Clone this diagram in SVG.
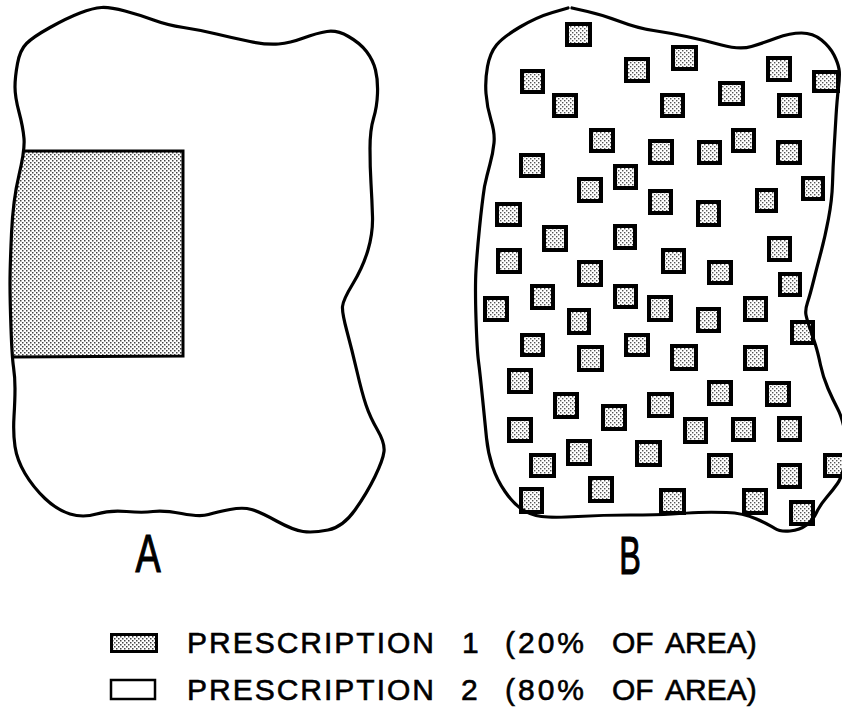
<svg xmlns="http://www.w3.org/2000/svg" width="842" height="709" viewBox="0 0 842 709">
<style>
.outline{fill:none;stroke:#000;stroke-width:3.2;stroke-linejoin:round;stroke-linecap:round}
.sq{fill:url(#dotsB);stroke:#000;stroke-width:4;stroke-linejoin:miter}
.lbl{font-family:"Liberation Sans",Arial,sans-serif;fill:#000;stroke:#000;stroke-width:1.2}
.leg{font-family:"Liberation Sans",Arial,sans-serif;font-size:30px;fill:#000;stroke:#000;stroke-width:0.6}
</style>
<defs>
<pattern id="dotsA" width="4" height="4" patternUnits="userSpaceOnUse">
<rect width="4" height="4" fill="#fff"/>
<rect x="0" y="0" width="1.5" height="1.5" fill="#444"/>
<rect x="2" y="2" width="1.5" height="1.5" fill="#444"/>
</pattern>
<pattern id="dotsB" width="4" height="4" patternUnits="userSpaceOnUse">
<rect width="4" height="4" fill="#fff"/>
<rect x="0" y="0" width="1.4" height="1.4" fill="#555"/>
<rect x="2" y="2" width="1.4" height="1.4" fill="#555"/>
</pattern>
</defs>
<rect width="842" height="709" fill="#fff"/>

<g id="plotA">
<polygon points="25,150 183,151 183,356 12,357 10,300 10,267 13,200" fill="url(#dotsA)"/>
<polyline points="25,151 183,151 183,356 12,357" fill="none" stroke="#000" stroke-width="3"/>
<path class="outline" d="M80,13 Q93,8 101.5,7.5 Q110,7 125,11 Q140,15 153.5,20 Q167,25 183.5,27.5 Q200,30 216.5,34 Q233,38 250,41.5 Q267,45 278.5,44 Q290,43 303.5,38 Q317,33 327,31.5 Q337,30 348.5,36.5 Q360,43 366.5,51.5 Q373,60 375.5,70 Q378,80 377.5,93.5 Q377,107 373.5,118.5 Q370,130 370,148.5 Q370,167 371,183.5 Q372,200 372.5,216.5 Q373,233 368,250 Q363,267 353,283.5 Q343,300 342.5,306.5 Q342,313 347,331.5 Q352,350 357,371.5 Q362,393 366,405 Q370,417 377.5,430 Q385,443 384,451.5 Q383,460 375,476.5 Q367,493 355,510 Q343,527 328,530 Q313,533 303,531.5 Q293,530 276.5,521 Q260,512 251.5,509.5 Q243,507 230,509.5 Q217,512 208.5,514.5 Q200,517 181.5,513.5 Q163,510 153,511.5 Q143,513 126.5,511.5 Q110,510 96.5,514 Q83,518 70,514 Q57,510 45,498.5 Q33,487 25,473.5 Q17,460 15,446.5 Q13,433 14,416.5 Q15,400 15,388.5 Q15,377 13.5,367 Q12,357 11,328.5 Q10,300 10,283.5 Q10,267 11.5,233.5 Q13,200 19,175 Q25,150 24,138.5 Q23,127 19,112 Q15,97 15,87 Q15,77 17.5,63.5 Q20,50 26.5,43.5 Q33,37 50,27.5 Q67,18 80,13 Z"/>
<text class="lbl" font-size="54" text-anchor="middle" transform="translate(148,572) scale(0.7,1)">A</text>
</g>

<g id="plotB">
<g id="squaresB">
<rect class="sq" x="567" y="24" width="23" height="21"/>
<rect class="sq" x="522" y="71" width="21" height="21"/>
<rect class="sq" x="554" y="95" width="22" height="21"/>
<rect class="sq" x="626" y="59" width="22" height="22"/>
<rect class="sq" x="673" y="47" width="23" height="22"/>
<rect class="sq" x="662" y="95" width="21" height="21"/>
<rect class="sq" x="720" y="83" width="23" height="21"/>
<rect class="sq" x="768" y="58" width="22" height="22"/>
<rect class="sq" x="814" y="72" width="24" height="19"/>
<rect class="sq" x="779" y="95" width="21" height="21"/>
<rect class="sq" x="591" y="130" width="22" height="21"/>
<rect class="sq" x="650" y="141" width="22" height="22"/>
<rect class="sq" x="699" y="142" width="21" height="21"/>
<rect class="sq" x="733" y="130" width="21" height="21"/>
<rect class="sq" x="778" y="142" width="22" height="21"/>
<rect class="sq" x="521" y="155" width="22" height="21"/>
<rect class="sq" x="615" y="166" width="21" height="22"/>
<rect class="sq" x="579" y="179" width="22" height="22"/>
<rect class="sq" x="803" y="178" width="20" height="21"/>
<rect class="sq" x="650" y="191" width="21" height="22"/>
<rect class="sq" x="698" y="202" width="21" height="23"/>
<rect class="sq" x="757" y="190" width="19" height="21"/>
<rect class="sq" x="497" y="204" width="23" height="21"/>
<rect class="sq" x="544" y="227" width="22" height="23"/>
<rect class="sq" x="615" y="226" width="20" height="22"/>
<rect class="sq" x="498" y="250" width="22" height="22"/>
<rect class="sq" x="579" y="262" width="22" height="23"/>
<rect class="sq" x="663" y="250" width="21" height="22"/>
<rect class="sq" x="709" y="262" width="22" height="21"/>
<rect class="sq" x="769" y="238" width="21" height="22"/>
<rect class="sq" x="780" y="274" width="20" height="21"/>
<rect class="sq" x="532" y="286" width="21" height="22"/>
<rect class="sq" x="485" y="298" width="22" height="22"/>
<rect class="sq" x="615" y="286" width="21" height="21"/>
<rect class="sq" x="649" y="297" width="22" height="23"/>
<rect class="sq" x="569" y="310" width="20" height="23"/>
<rect class="sq" x="698" y="309" width="21" height="22"/>
<rect class="sq" x="745" y="298" width="21" height="22"/>
<rect class="sq" x="792" y="322" width="21" height="21"/>
<rect class="sq" x="522" y="335" width="21" height="20"/>
<rect class="sq" x="579" y="347" width="23" height="23"/>
<rect class="sq" x="626" y="335" width="22" height="20"/>
<rect class="sq" x="672" y="346" width="24" height="23"/>
<rect class="sq" x="745" y="347" width="21" height="22"/>
<rect class="sq" x="509" y="370" width="22" height="22"/>
<rect class="sq" x="709" y="382" width="22" height="22"/>
<rect class="sq" x="767" y="383" width="22" height="22"/>
<rect class="sq" x="555" y="394" width="22" height="23"/>
<rect class="sq" x="649" y="394" width="23" height="22"/>
<rect class="sq" x="603" y="406" width="22" height="23"/>
<rect class="sq" x="509" y="419" width="22" height="22"/>
<rect class="sq" x="685" y="419" width="21" height="23"/>
<rect class="sq" x="733" y="419" width="21" height="21"/>
<rect class="sq" x="779" y="418" width="21" height="22"/>
<rect class="sq" x="568" y="441" width="22" height="23"/>
<rect class="sq" x="637" y="442" width="23" height="23"/>
<rect class="sq" x="531" y="455" width="23" height="21"/>
<rect class="sq" x="709" y="455" width="22" height="21"/>
<rect class="sq" x="825" y="455" width="22" height="21"/>
<rect class="sq" x="779" y="465" width="21" height="22"/>
<rect class="sq" x="590" y="478" width="22" height="23"/>
<rect class="sq" x="521" y="489" width="21" height="23"/>
<rect class="sq" x="661" y="490" width="23" height="23"/>
<rect class="sq" x="744" y="490" width="22" height="23"/>
<rect class="sq" x="791" y="502" width="22" height="22"/>
</g>
<path class="outline" d="M572,8 L587.5,11.5 Q603,15 620,21.5 Q637,28 653.5,30.5 Q670,33 686.5,36.5 Q703,40 721.5,45 Q740,50 751.5,46.5 Q763,43 776.5,38 Q790,33 801.5,33 Q813,33 821.5,40 Q830,47 834,55 Q838,63 839,69 Q840,75 838.5,87.5 Q837,100 836,116.5 Q835,133 834,150 Q833,167 832.5,183.5 Q832,200 828.5,218.5 Q825,237 821,252 Q817,267 813.5,281 Q810,295 807.5,302.5 Q805,310 806,315 Q807,320 810,328.5 Q813,337 815.5,345 Q818,353 820.5,365 Q823,377 828,388.5 Q833,400 837.5,408.5 Q842,417 845,432 Q848,447 845,462 Q842,477 837.5,483.5 Q833,490 826.5,497.5 Q820,505 816.5,512.5 Q813,520 806.5,525 Q800,530 790,531 Q780,532 775,528.5 Q770,525 756.5,519 Q743,513 726.5,512.5 Q710,512 698.5,512.5 Q687,513 672,514 Q657,515 630,515 Q603,515 578,516.5 Q553,518 541.5,516.5 Q530,515 521.5,509 Q513,503 505,491.5 Q497,480 492.5,466.5 Q488,453 486.5,438 Q485,423 482.5,398 Q480,373 478.5,361.5 Q477,350 476,318.5 Q475,287 476,270 Q477,253 479.5,228 Q482,203 484.5,186.5 Q487,175 490,164 Q493,153 494,143 Q495,133 491,120 Q487,107 486,93.5 Q485,80 487.5,66.5 Q490,53 496.5,45 Q503,37 520,27 Q537,17 552.5,12.5 L568,8"/>
<text class="lbl" font-size="54" text-anchor="middle" transform="translate(630,574) scale(0.6,1)">B</text>
</g>

<g id="legend">
<rect x="111.5" y="634.5" width="45" height="17" fill="url(#dotsA)" stroke="#000" stroke-width="3"/>
<rect x="111" y="680" width="44" height="19" fill="#fff" stroke="#000" stroke-width="2.5"/>
<text class="leg" y="653"><tspan x="187" letter-spacing="2">PRESCRIPTION </tspan><tspan x="462">1 </tspan><tspan x="505" letter-spacing="3">(20% </tspan><tspan x="612">OF </tspan><tspan x="665">AREA)</tspan></text>
<text class="leg" y="700"><tspan x="187" letter-spacing="2">PRESCRIPTION </tspan><tspan x="461">2 </tspan><tspan x="505" letter-spacing="3">(80% </tspan><tspan x="612">OF </tspan><tspan x="665">AREA)</tspan></text>
</g>
</svg>
